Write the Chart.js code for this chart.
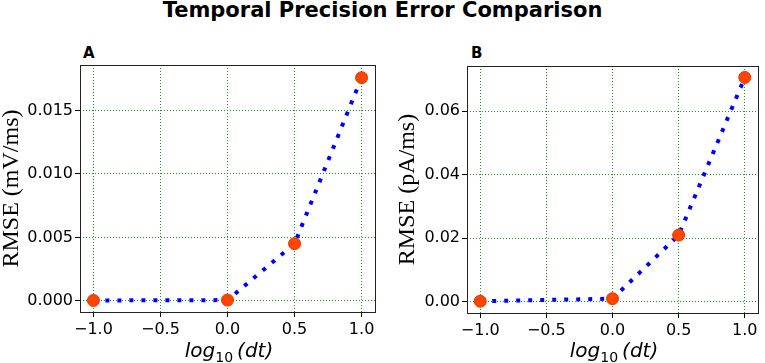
<!DOCTYPE html>
<html>
<head>
<meta charset="utf-8">
<script src="https://cdn.jsdelivr.net/npm/chart.js@4"></script>
<style>
  body { margin: 0; background: #fff; width: 765px; height: 363px; position: relative; overflow: hidden; }
  .box { position: absolute; top: 0; }
  #title { position: absolute; left: 0; top: 0px; width: 765px; text-align: center;
    font: bold 21px "DejaVu Sans"; line-height: 21px; color: #000; }
  .letter { position: absolute; font: bold 15px "DejaVu Sans"; line-height: 15px; color: #000; }
  .xlab { position: absolute; top: 340px; width: 200px; text-align: center; white-space: nowrap;
    font: 20px "DejaVu Sans"; line-height: 20px; color: #000; }
  .xlab i { font-style: italic; }
  .xlab .sub { font-size: 14px; position: relative; top: 5px; }
</style>
</head>
<body>
<div id="title">Temporal Precision Error Comparison</div>
<div class="letter" style="left:83px; top:46px;">A</div>
<div class="letter" style="left:471px; top:46px;">B</div>
<div class="box" style="left:0px;"><canvas id="chartA" width="385" height="363"></canvas></div>
<div class="box" style="left:385px;"><canvas id="chartB" width="380" height="363"></canvas></div>
<div class="xlab" style="left:129px;"><i>log</i><span class="sub">10</span>&#8201;<i>(dt)</i></div>
<div class="xlab" style="left:514px;"><i>log</i><span class="sub">10</span>&#8201;<i>(dt)</i></div>
<script>
// values
const logDt = [-1.0, 0.0, 0.5, 1.0];
const rmseA = [0.00002, 0.00005, 0.0045, 0.0176];   // mV/ms
const rmseB = [0.0002, 0.001, 0.021, 0.0706];       // pA/ms

const xTicks = [-1.0, -0.5, 0.0, 0.5, 1.0];
const yTicksA = [0.0, 0.005, 0.010, 0.015];
const yTicksB = [0.0, 0.02, 0.04, 0.06];

Chart.defaults.color = "#000";
Chart.defaults.font.family = "DejaVu Sans";

// black frame round the plot area, like matplotlib spines
const framePlugin = {
  id: "frame",
  beforeDatasetsDraw(chart) {
    const a = chart.chartArea;
    const ctx = chart.ctx;
    ctx.save();
    ctx.setLineDash([]);
    ctx.strokeStyle = "#222";
    ctx.lineWidth = 1;
    ctx.strokeRect(Math.round(a.left) + 0.5, Math.round(a.top) + 0.5,
      Math.round(a.right - a.left), Math.round(a.bottom - a.top));
    ctx.restore();
  },
};

function minus(s) {
  return s.replace("-", "\u2212");
}

function makeChart(id, ys, yTicks, digits, yLabel, yMin, yMax, opts) {
  const ctx = document.getElementById(id);
  const grid = {
    color: "rgba(0,140,0,0.9)",
    lineWidth: 1,
    tickColor: "#000",
    tickLength: 5,
    tickWidth: 1,
  };
  return new Chart(ctx, {
    type: "line",
    data: {
      datasets: [
        {
          data: logDt.map((x, i) => ({ x: x, y: ys[i] })),
          borderColor: "#0000ff",
          borderWidth: 4,
          borderDash: [4, 8],
          borderCapStyle: "butt",
          tension: 0,
          pointRadius: 6,
          pointHoverRadius: 6,
          pointBackgroundColor: "#ff4500",
          pointBorderColor: "#e23600",
          pointBorderWidth: 1,
          clip: false,
        },
      ],
    },
    options: {
      responsive: false,
      animation: false,
      layout: { padding: opts.padding },
      scales: {
        x: {
          type: "linear",
          min: -1.1,
          max: 1.1,
          grid: grid,
          border: { display: false, dash: [1, 2] },
          afterBuildTicks: (s) => { s.ticks = xTicks.map((v) => ({ value: v })); },
          afterFit: (s) => { s.height = opts.xHeight; },
          ticks: {
            padding: 3,
            maxRotation: 0,
            font: { size: 16 },
            callback: (v) => minus(v.toFixed(1)),
          },
        },
        y: {
          min: yMin,
          max: yMax,
          grid: grid,
          border: { display: false, dash: [1, 2] },
          afterBuildTicks: (s) => { s.ticks = yTicks.map((v) => ({ value: v })); },
          afterFit: (s) => { s.width = opts.yWidth; },
          ticks: {
            padding: 2,
            font: { size: 16 },
            callback: (v) => minus(v.toFixed(digits)),
          },
          title: {
            display: true,
            text: yLabel,
            padding: 0,
            font: { family: "Liberation Serif", size: 24, lineHeight: 1 },
          },
        },
      },
      plugins: {
        legend: { display: false },
        tooltip: { enabled: false },
      },
    },
    plugins: [framePlugin],
  });
}

makeChart("chartA", rmseA, yTicksA, 3, "RMSE (mV/ms)", -0.00089, 0.0186, {
  padding: { left: 0, top: 65, right: 10, bottom: 0 },
  yWidth: 80,
  xHeight: 51,
});

makeChart("chartB", rmseB, yTicksB, 2, "RMSE (pA/ms)", -0.0035, 0.0742, {
  padding: { left: 11, top: 66, right: 5, bottom: 0 },
  yWidth: 71,
  xHeight: 50,
});
</script>
</body>
</html>
